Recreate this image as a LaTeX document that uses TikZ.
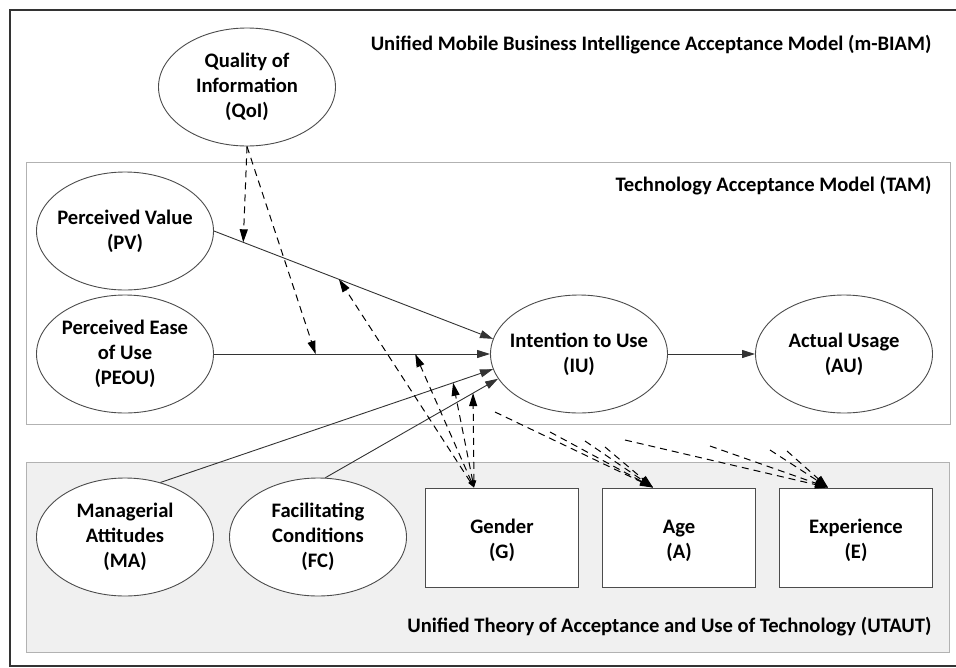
\documentclass[tikz,border=0pt]{standalone}
\usepackage{fontspec}
\setmainfont{Carlito}
\usetikzlibrary{shapes.geometric,arrows.meta,calc}
\newcommand{\twolines}[2]{\raisebox{0pt}[\dimexpr\height+6pt\relax][\depth]{\begin{tabular}{@{}c@{}}#1\\#2\end{tabular}}}
\begin{document}
\begin{tikzpicture}[x=1pt,y=-1pt,
  lbl/.style={font=\fontsize{20.6}{25}\selectfont\bfseries, align=center, text=black},
  ell/.style={ellipse, draw=black!70, line width=0.9pt, fill=white, minimum width=177pt, minimum height=118pt, inner xsep=-20pt, inner ysep=0pt, lbl},
  modbox/.style={rectangle, draw=black!70, line width=1pt, fill=white, minimum width=153pt, minimum height=99pt, inner sep=0pt, lbl},
  solidarr/.style={draw=black!80, line width=0.9pt, -{Triangle[length=13pt,width=8pt]}},
  dasharr/.style={draw=black, line width=1pt, dash pattern=on 7pt off 5pt, -{Triangle[length=13pt,width=8pt]}},
  dashboth/.style={dasharr, {Triangle[length=7pt,width=4.5pt]}-{Triangle[length=13pt,width=8pt]}},
]
\useasboundingbox (0,0) rectangle (956,667);
% frames
\draw[black!80, line width=1.2pt] (10,10) rectangle (975,666);
\draw[black!30, line width=1pt] (26,162) rectangle (950,424);
\draw[black!30, line width=1pt, fill=black!6] (26,462) rectangle (949,652);

% titles
\node[lbl, anchor=east] (tbiam) at (935,45) {Unified Mobile Business Intelligence Acceptance Model (m-BIAM)};
\node[lbl, anchor=east] (ttam) at (935,186) {Technology Acceptance Model (TAM)};
\node[lbl, anchor=east] (tutaut) at (935,627) {Unified Theory of Acceptance and Use of Technology (UTAUT)};

% nodes
\node[ell] (qoi) at (247,87) {Quality of\\Information\\(QoI)};
\node[ell] (pv) at (125,231) {Perceived Value\\(PV)};
\node[ell] (peou) at (125,354) {Perceived Ease\\of Use\\(PEOU)};
\node[ell] (iu) at (579,354) {Intention to Use\\(IU)};
\node[ell] (au) at (844,354) {Actual Usage\\(AU)};
\node[ell] (ma) at (125,537) {Managerial\\Attitudes\\(MA)};
\node[ell] (fc) at (318,537) {Facilitating\\Conditions\\(FC)};
\node[modbox] (g) at (502,537.5) {\twolines{Gender}{(G)}};
\node[modbox] (a) at (679,537.5) {\twolines{Age}{(A)}};
\node[modbox] (e) at (856,537.5) {\twolines{Experience}{(E)}};

% solid paths
\draw[solidarr] (pv.east) -- (iu.170);
\draw[solidarr] (peou.east) -- (iu.west);
\draw[solidarr] (ma.57) -- (iu.190);
\draw[solidarr] (fc.83) -- (iu.197);
\draw[solidarr] (iu.east) -- (au.west);

% points on paths
\path (pv.east) -- (iu.170) coordinate[pos=0.105] (pvq) coordinate[pos=0.448] (pvg);
\path (peou.east) -- (iu.west) coordinate[pos=0.368] (peouq) coordinate[pos=0.729] (peoug);
\path (ma.57) -- (iu.190) coordinate[pos=0.88] (mag);
\path (fc.83) -- (iu.197) coordinate[pos=0.855] (fcg);

% QoI moderation
\draw[dasharr] (qoi.south) -- (pvq);
\draw[dasharr] (qoi.south) -- (peouq);

% Gender moderation
\coordinate (gt) at ($(g.north west)+(49,0)$);
\draw[dashboth] (gt) -- (pvg);
\draw[dashboth] (gt) -- (peoug);
\draw[dashboth] (gt) -- (mag);
\draw[dashboth] (gt) -- (fcg);

% Age moderation
\coordinate (at) at ($(a.north west)+(51,0)$);
\coordinate (a1) at (495,412);
\coordinate (a2) at (550,432);
\coordinate (a3) at (585,441);
\coordinate (a4) at (605,447);
\foreach \p in {a1,a2,a3,a4} \draw[dasharr] (\p) -- (at);

% Experience moderation
\coordinate (et) at ($(e.north west)+(49,0)$);
\coordinate (e1) at (625,440);
\coordinate (e2) at (710,446);
\coordinate (e3) at (770,450);
\coordinate (e4) at (787,451);
\foreach \p in {e1,e2,e3,e4} \draw[dasharr] (\p) -- (et);
\end{tikzpicture}
\end{document}
